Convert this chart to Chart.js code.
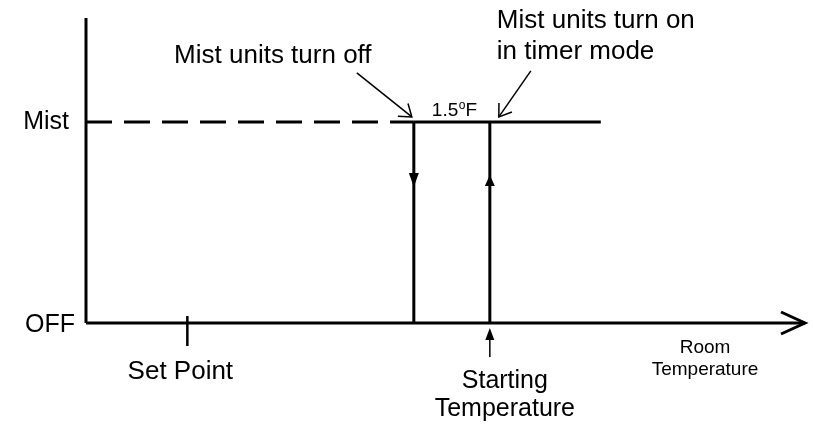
<!DOCTYPE html>
<html>
<head>
<meta charset="utf-8">
<script src="https://cdn.jsdelivr.net/npm/chart.js@4/dist/chart.umd.min.js"></script>
<style>
html,body{margin:0;padding:0;background:#fff;}
#wrap{width:813px;height:424px;}
</style>
</head>
<body>
<div id="wrap"><canvas id="c" width="813" height="424"></canvas></div>
<script>
// ---- data (x in °F from the vertical axis, y = mist state) ----
const stateLabels = ['OFF', 'Mist'];
const stateValues = [0, 1];
const setPoint = 2.0;      // °F
const turnOffTemp = 6.47;  // mist units turn off
const turnOnTemp = 7.97;   // mist units turn on (starting temperature)
const mistLineEnd = 10.16;
const axisEnd = 14.19;
const yAxisTop = 1.517;
const hysteresisLabel = ['1.5', 'o', 'F'];
const offCallout = ['Mist units turn off'];
const onCallout = ['Mist units turn on', 'in timer mode'];
const setPointLabel = ['Set Point'];
const startLabel = ['Starting', 'Temperature'];
const xAxisTitle = ['Room', 'Temperature'];

const FONT = '"Liberation Sans", Arial, sans-serif';
const INK = '#000';

function seg(x0, y0, x1, y1) { return [{x: x0, y: y0}, {x: x1, y: y1}]; }

const datasets = [
  {data: seg(0, 0, axisEnd, 0), borderWidth: 3},                       // x axis
  {data: seg(0, 0, 0, yAxisTop), borderWidth: 3},                      // y axis
  {data: seg(0, stateValues[1], turnOffTemp, stateValues[1]), borderWidth: 3, borderDash: [26, 12]},
  {data: seg(turnOffTemp, stateValues[1], mistLineEnd, stateValues[1]), borderWidth: 3},
  {data: seg(turnOffTemp, stateValues[1], turnOffTemp, stateValues[0]), borderWidth: 3},
  {data: seg(turnOnTemp, stateValues[0], turnOnTemp, stateValues[1]), borderWidth: 3}
].map(d => Object.assign({borderColor: INK, pointRadius: 0, fill: false, tension: 0, clip: false, borderCapStyle: 'butt'}, d));

function tri(ctx, x, tipY, dir, w, h) {
  ctx.beginPath();
  ctx.moveTo(x, tipY);
  ctx.lineTo(x - w / 2, tipY - dir * h);
  ctx.lineTo(x + w / 2, tipY - dir * h);
  ctx.closePath();
  ctx.fill();
}
function callout(ctx, sx, sy, tx, ty, spread, len) {
  ctx.beginPath(); ctx.moveTo(sx, sy); ctx.lineTo(tx, ty); ctx.stroke();
  const a = Math.atan2(sy - ty, sx - tx);
  ctx.beginPath();
  ctx.moveTo(tx + len * Math.cos(a - spread), ty + len * Math.sin(a - spread));
  ctx.lineTo(tx, ty);
  ctx.lineTo(tx + len * Math.cos(a + spread), ty + len * Math.sin(a + spread));
  ctx.stroke();
}

const decor = {
  id: 'decor',
  afterDatasetsDraw(chart) {
    const ctx = chart.ctx, xs = chart.scales.x, ys = chart.scales.y;
    const x0 = xs.getPixelForValue(0);
    const yOff = ys.getPixelForValue(stateValues[0]);
    const yMist = ys.getPixelForValue(stateValues[1]);
    const xEnd = xs.getPixelForValue(axisEnd);
    const xSet = xs.getPixelForValue(setPoint);
    const xOff = xs.getPixelForValue(turnOffTemp);
    const xOn = xs.getPixelForValue(turnOnTemp);
    ctx.save();
    ctx.strokeStyle = INK; ctx.fillStyle = INK;

    // x-axis open arrowhead
    ctx.lineWidth = 3; ctx.lineJoin = 'miter';
    ctx.beginPath();
    ctx.moveTo(xEnd - 24, yOff - 11); ctx.lineTo(xEnd, yOff); ctx.lineTo(xEnd - 24, yOff + 11);
    ctx.stroke();

    // set point tick
    ctx.lineWidth = 2.5;
    ctx.beginPath(); ctx.moveTo(xSet, yOff - 7); ctx.lineTo(xSet, yOff + 23); ctx.stroke();

    // direction arrows on the vertical transitions
    tri(ctx, xOff, yMist + 65, 1, 10, 14);
    tri(ctx, xOn, yMist + 53, -1, 10, 11);

    // starting temperature arrow
    ctx.lineWidth = 1.5;
    ctx.beginPath(); ctx.moveTo(xOn, yOff + 34); ctx.lineTo(xOn, yOff + 14); ctx.stroke();
    tri(ctx, xOn, yOff + 5, -1, 9, 12);

    // callout arrows
    ctx.lineWidth = 1.5;
    callout(ctx, xOff - 57, yMist - 49, xOff - 2, yMist - 5, 0.62, 14);
    callout(ctx, xOn + 41, yMist - 51, xOn + 9, yMist - 5, 0.6, 14);

    // texts
    ctx.textBaseline = 'alphabetic';
    ctx.font = '25px ' + FONT;
    ctx.textAlign = 'right';
    ctx.fillText(stateLabels[1], x0 - 17, yMist + 7);
    ctx.fillText(stateLabels[0], x0 - 11, yOff + 9);
    ctx.textAlign = 'center';
    ctx.font = '26px ' + FONT;
    ctx.fillText(offCallout[0], xOff - 141, yMist - 59);
    ctx.fillText(setPointLabel[0], xSet - 7, yOff + 56);
    ctx.font = '25px ' + FONT;
    ctx.fillText(startLabel[0], xOn + 15, yOff + 65);
    ctx.fillText(startLabel[1], xOn + 15, yOff + 93);
    ctx.font = '26px ' + FONT;
    ctx.textAlign = 'left';
    ctx.fillText(onCallout[0], xOn + 7, yMist - 94);
    ctx.fillText(onCallout[1], xOn + 7, yMist - 63);

    ctx.textAlign = 'center';
    ctx.font = '19px ' + FONT;
    ctx.fillText(xAxisTitle[0], xEnd - 100, yOff + 30);
    ctx.fillText(xAxisTitle[1], xEnd - 100, yOff + 52);

    // 1.5°F with superscript o
    ctx.textAlign = 'left';
    const bx = xOff + 18, by = yMist - 6;
    ctx.font = '19px ' + FONT;
    ctx.fillText(hysteresisLabel[0], bx, by);
    let w = ctx.measureText(hysteresisLabel[0]).width;
    ctx.font = '12px ' + FONT;
    ctx.fillText(hysteresisLabel[1], bx + w + 0.5, by - 7);
    w += ctx.measureText(hysteresisLabel[1]).width + 0.5;
    ctx.font = '19px ' + FONT;
    ctx.fillText(hysteresisLabel[2], bx + w, by);
    ctx.restore();
  }
};

new Chart(document.getElementById('c'), {
  type: 'line',
  data: {datasets},
  options: {
    responsive: false,
    animation: false,
    events: [],
    layout: {padding: {left: 86, right: 8, top: 18, bottom: 101}},
    plugins: {legend: {display: false}, tooltip: {enabled: false}, title: {display: false}},
    scales: {
      x: {type: 'linear', min: 0, max: axisEnd, display: false},
      y: {type: 'linear', min: 0, max: yAxisTop, display: false}
    }
  },
  plugins: [decor]
});
</script>
</body>
</html>
